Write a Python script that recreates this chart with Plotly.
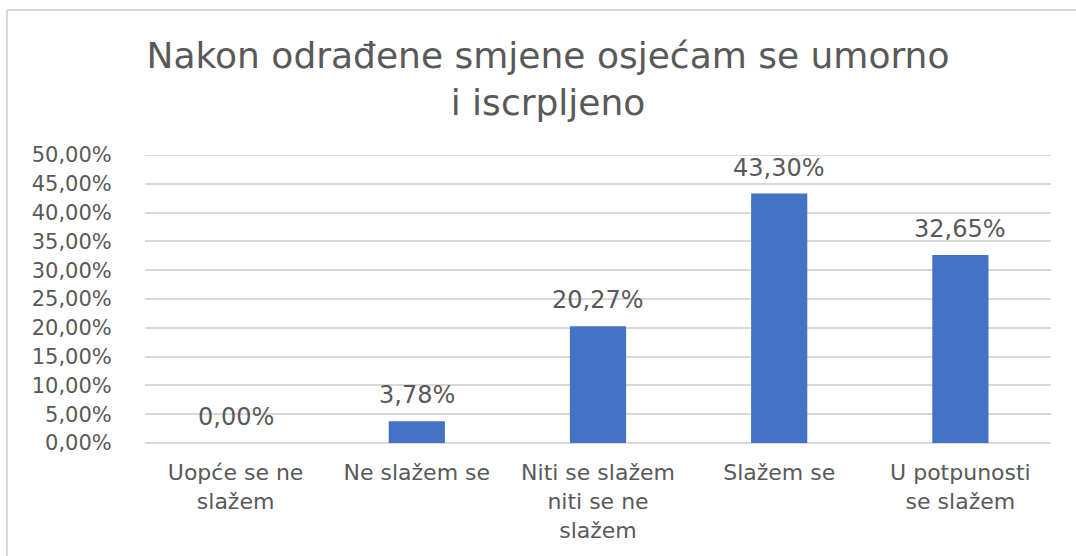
import plotly.graph_objects as go

categories = ["Uopće se ne<br>slažem", "Ne slažem se", "Niti se slažem<br>niti se ne<br>slažem",
              "Slažem se", "U potpunosti<br>se slažem"]
values = [0.0, 3.78, 20.27, 43.30, 32.65]
title = "Nakon odrađene smjene osjećam se umorno<br>i iscrpljeno"
y_max = 0.5

gray_text = "#595959"
grid = "#d9d9d9"
font_name = "DejaVu Sans"

shares = [v / 100 for v in values]
labels = [f"{v:.2f}%".replace(".", ",") for v in values]

fig = go.Figure(go.Bar(x=categories, y=shares, marker_color="#4472C4",
                       marker_line_width=0, hoverinfo="skip"))

for c, s, lab in zip(categories, shares, labels):
    fig.add_annotation(x=c, y=s, text=lab, showarrow=False, yanchor="middle",
                       yshift=26, font=dict(family=font_name, size=24, color=gray_text))

# top gridline (plotly skips the one sitting on the plot edge)
fig.add_shape(type="line", xref="paper", yref="y", x0=0, x1=1, y0=y_max, y1=y_max,
              line=dict(color=grid, width=2), layer="below")

# light border round the chart area (left and top visible in the picture)
pl, pr, pt, pb = 145, 25, 155, 113
pw, ph = 1076 - pl - pr, 556 - pt - pb
bx = (7 - pl) / pw
by = 1 + (pt - 10) / ph
fig.add_shape(type="line", xref="paper", yref="paper", x0=bx, x1=1.1, y0=by, y1=by,
              line=dict(color=grid, width=2))
fig.add_shape(type="line", xref="paper", yref="paper", x0=bx, x1=bx, y0=by, y1=-0.5,
              line=dict(color=grid, width=2))

fig.update_layout(
    width=1076, height=556,
    margin=dict(l=pl, r=pr, t=pt, b=pb),
    paper_bgcolor="white", plot_bgcolor="white",
    separators=", ",
    bargap=0.69,
    showlegend=False,
    title=dict(text=title, x=548 / 1076, xref="container", xanchor="center",
               y=1 - 68 / 556, yanchor="middle",
               font=dict(family=font_name, size=36, color=gray_text)),
    font=dict(family=font_name, color=gray_text),
)
fig.update_xaxes(showgrid=False, showline=False, ticks="outside", ticklen=10,
                 tickcolor="rgba(0,0,0,0)",
                 tickfont=dict(family=font_name, size=22, color=gray_text))
fig.update_yaxes(range=[0, y_max], dtick=0.05, tickformat=".2%", showgrid=True,
                 gridcolor=grid, gridwidth=2, zeroline=True, zerolinecolor=grid,
                 zerolinewidth=2, showline=False, ticks="outside", ticklen=28,
                 tickcolor="rgba(0,0,0,0)",
                 tickfont=dict(family=font_name, size=21, color=gray_text))

fig.write_html("out.html", config={"displayModeBar": False},
               post_script="document.body.style.margin='0';")
